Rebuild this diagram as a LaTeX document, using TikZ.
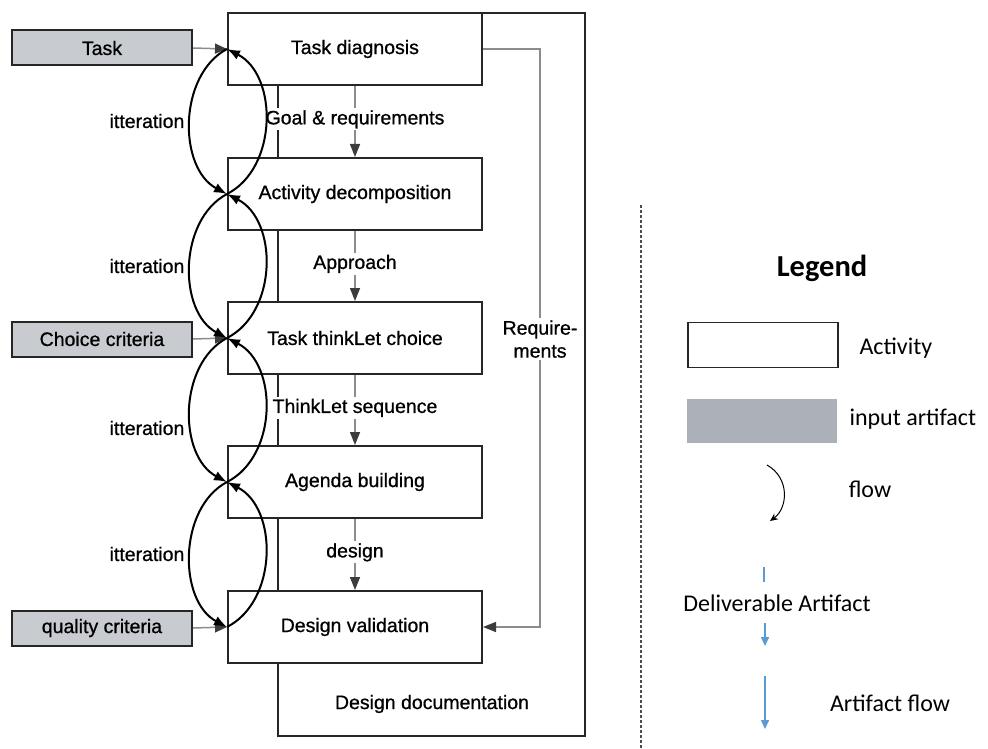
\documentclass[tikz,border=0pt]{standalone}
\usepackage{fontspec}
\setmainfont{Liberation Sans}[FakeBold=0.8]
\newfontfamily\legendfont{Carlito}
\usetikzlibrary{arrows.meta}
\definecolor{inputgray}{RGB}{200,203,207}
\definecolor{legendgray}{RGB}{172,176,184}
\definecolor{flowgray}{RGB}{140,140,140}
\definecolor{tipgray}{RGB}{60,60,60}
\definecolor{artblue}{RGB}{91,155,213}
\begin{document}
\begin{tikzpicture}[x=1pt,y=-1pt,
  every node/.style={font=\fontsize{19.5}{21}\selectfont},
  activity/.style={draw=black!85, line width=2pt, fill=white, minimum width=254pt, minimum height=72pt, inner sep=0pt},
  inputbox/.style={draw=black!85, line width=2pt, fill=inputgray, minimum width=180pt, minimum height=35pt, inner sep=0pt},
  inarrow/.style={draw=flowgray, line width=1.5pt, -{Triangle[width=10pt,length=12pt,fill=tipgray,color=tipgray]}},
  flowarrow/.style={draw=flowgray, line width=1.5pt, -{Triangle[width=10pt,length=13pt,fill=tipgray,color=tipgray]}},
  flowlabel/.style={fill=white, inner sep=2pt},
  loopline/.style={draw=black, line width=2pt, -{Latex[length=13pt,width=10pt]}},
  outerline/.style={draw=black!85, line width=2pt},
  legendtext/.style={font=\legendfont\fontsize{24}{28}\selectfont},
  bluearrow/.style={draw=artblue, line width=1.5pt, -{Triangle[width=8pt,length=9pt]}}
]
\useasboundingbox (0,0) rectangle (988,749);

% outer frame (design documentation)
\coordinate (o1) at (278,13);
\coordinate (o2) at (585,13);
\coordinate (o3) at (585,736);
\coordinate (o4) at (278,736);
\draw[outerline] (o1) -- (o2) -- (o3) -- (o4) -- cycle;
\node (doc) at (432,704) {Design documentation};

% activities
\node[activity] (td) at (355,49)  {Task diagnosis};
\node[activity] (ad) at (355,194) {Activity decomposition};
\node[activity] (tc) at (355,338) {Task thinkLet choice};
\node[activity] (ab) at (355,482) {Agenda building};
\node[activity] (dv) at (355,627) {Design validation};

% inputs
\node[inputbox] (task) at (102,48)  {Task};
\node[inputbox] (cc)   at (102,339) {Choice criteria};
\node[inputbox] (qc)   at (102,628) {quality criteria};

\draw[inarrow] (task.east) -- (td.west);
\draw[inarrow] (cc.east) -- (tc.west);
\draw[inarrow] (qc.east) -- (dv.west);

% vertical artifact flows
\draw[flowarrow] (td.south) -- node[flowlabel, pos=0.47] {Goal \& requirements} (ad.north);
\draw[flowarrow] (ad.south) -- node[flowlabel, pos=0.47] {Approach} (tc.north);
\draw[flowarrow] (tc.south) -- node[flowlabel, pos=0.47] {ThinkLet sequence} (ab.north);
\draw[flowarrow] (ab.south) -- node[flowlabel, pos=0.47] {design} (dv.north);

% requirements
\coordinate (r1) at (540,49);
\coordinate (r2) at (540,627);
\draw[flowarrow] (td.east) -- (r1) -- node[flowlabel, align=center, pos=0.502, font=\fontsize{19.5}{23}\selectfont] {Require-\\ments} (r2) -- (dv.east);

% iteration loops
\draw[loopline] (td.west) .. controls (178,75) and (178,168) .. (ad.west);
\draw[loopline] (ad.west) .. controls (278,168) and (278,75) .. (td.west);
\draw[loopline] (ad.west) .. controls (178,220) and (178,312) .. (tc.west);
\draw[loopline] (tc.west) .. controls (278,312) and (278,220) .. (ad.west);
\draw[loopline] (tc.west) .. controls (178,364) and (178,456) .. (ab.west);
\draw[loopline] (ab.west) .. controls (278,456) and (278,364) .. (tc.west);
\draw[loopline] (ab.west) .. controls (178,508) and (178,601) .. (dv.west);
\draw[loopline] (dv.west) .. controls (278,601) and (278,508) .. (ab.west);

\node (it1) at (147,121) {itteration};
\node (it2) at (147,266) {itteration};
\node (it3) at (147,428) {itteration};
\node (it4) at (147,554) {itteration};

% legend
\coordinate (sepTop) at (641,205);
\coordinate (sepBot) at (641,749);
\draw[draw=black!70, line width=1.3pt, dash pattern=on 3pt off 2pt] (sepTop) -- (sepBot);

\node[font=\legendfont\bfseries\fontsize{30.5}{33}\selectfont] (legend) at (822,268) {Legend};

\node[draw=black!85, line width=1.3pt, fill=white, minimum width=150pt, minimum height=45pt, inner sep=0pt] (lact) at (763,345) {};
\node[legendtext, anchor=west] (lacttext) at (856,348) {Activity};

\node[fill=legendgray, minimum width=150pt, minimum height=44pt, inner sep=0pt] (lin) at (762,421) {};
\node[legendtext, anchor=west] (lintext) at (846,419) {input artifact};

\coordinate (f1) at (767,465);
\coordinate (f2) at (770,521);
\draw[line width=1pt, -{Stealth[length=8pt,width=7pt]}] (f1) .. controls (790,478) and (788,508) .. (f2);
\node[legendtext] (ftext) at (870,489) {flow};

\coordinate (d1) at (764,567);
\coordinate (d2) at (764,582);
\draw[draw=artblue, line width=1.5pt] (d1) -- (d2);
\node[legendtext] (dtext) at (777,603) {Deliverable Artifact};
\coordinate (d3) at (765,623);
\coordinate (d4) at (765,646);
\draw[bluearrow] (d3) -- (d4);

\coordinate (a1) at (765,676);
\coordinate (a2) at (765,729);
\draw[bluearrow] (a1) -- (a2);
\node[legendtext] (atext) at (890,703) {Artifact flow};
\end{tikzpicture}
\end{document}
